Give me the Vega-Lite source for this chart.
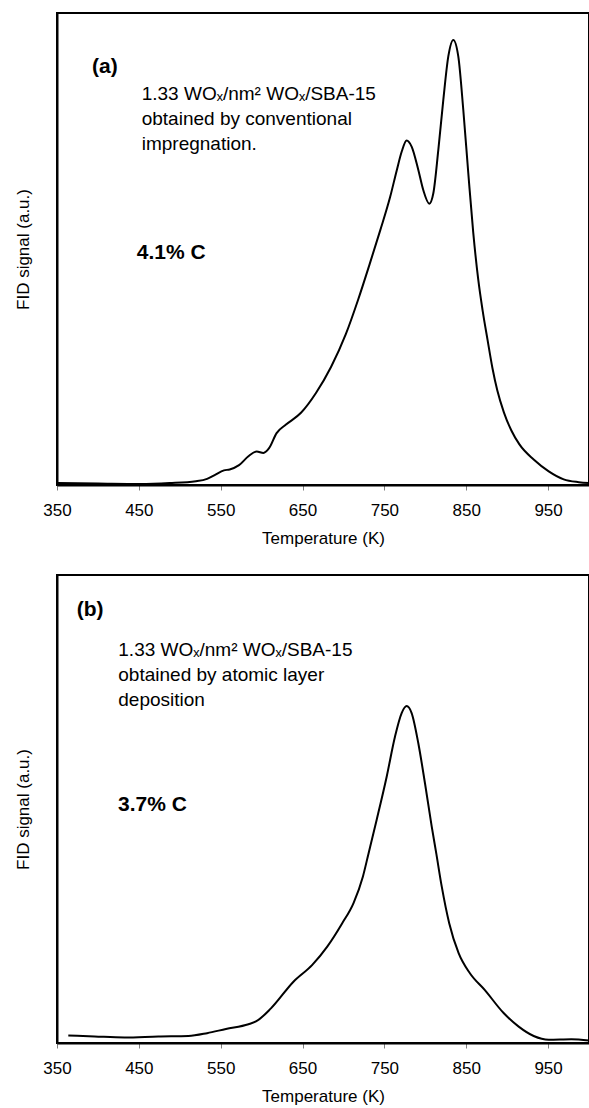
{
  "$schema": "https://vega.github.io/schema/vega-lite/v6.json",
  "background": "white",
  "padding": {"left": 13, "top": 12, "right": 0, "bottom": 0},
  "bounds": "flush",
  "spacing": 90,
  "datasets": {
    "a": [
      {"T": 350, "v": 0.4}, {"T": 400, "v": 0.3}, {"T": 451, "v": 0.2}, {"T": 487.6, "v": 0.4},
      {"T": 519.7, "v": 0.8}, {"T": 533.4, "v": 1.3}, {"T": 542.6, "v": 2.1}, {"T": 554, "v": 3.1},
      {"T": 561, "v": 3.3}, {"T": 572.4, "v": 4.2}, {"T": 583.9, "v": 6.1}, {"T": 594, "v": 7.1},
      {"T": 602.2, "v": 6.8}, {"T": 609.1, "v": 7.8}, {"T": 618.3, "v": 11.0}, {"T": 629.8, "v": 12.8},
      {"T": 648.1, "v": 15.3}, {"T": 666.4, "v": 19.5}, {"T": 684.8, "v": 25.0}, {"T": 703, "v": 32.0},
      {"T": 718, "v": 39.3}, {"T": 732, "v": 46.8}, {"T": 745, "v": 54.0}, {"T": 757, "v": 61.0},
      {"T": 765, "v": 66.6}, {"T": 771.1, "v": 70.6}, {"T": 777.2, "v": 73.0}, {"T": 783.3, "v": 71.7},
      {"T": 791.4, "v": 66.8}, {"T": 797.5, "v": 62.5}, {"T": 804.9, "v": 59.6}, {"T": 809.8, "v": 61.8},
      {"T": 815.9, "v": 71.0}, {"T": 822, "v": 81.6}, {"T": 828.1, "v": 90.8}, {"T": 834.2, "v": 94.3},
      {"T": 840.3, "v": 90.8}, {"T": 846.4, "v": 79.5}, {"T": 852.5, "v": 66.1}, {"T": 858.6, "v": 53.4},
      {"T": 864.7, "v": 43.5}, {"T": 870, "v": 37.0}, {"T": 876, "v": 30.8}, {"T": 882, "v": 24.8},
      {"T": 888, "v": 20.0}, {"T": 896, "v": 15.4}, {"T": 905, "v": 11.6}, {"T": 915, "v": 8.6},
      {"T": 932.4, "v": 5.4}, {"T": 950.8, "v": 2.9}, {"T": 969.1, "v": 1.2}, {"T": 987.5, "v": 0.6},
      {"T": 1000, "v": 0.4}
    ],
    "b": [
      {"T": 363.8, "v": 1.6}, {"T": 395.9, "v": 1.4}, {"T": 432.5, "v": 1.2}, {"T": 473.8, "v": 1.4},
      {"T": 510.5, "v": 1.5}, {"T": 533.4, "v": 2.1}, {"T": 556.4, "v": 3.0}, {"T": 583.9, "v": 4.0},
      {"T": 593.1, "v": 4.6}, {"T": 611.4, "v": 7.4}, {"T": 638.9, "v": 13.1}, {"T": 661.9, "v": 16.7},
      {"T": 680.2, "v": 20.6}, {"T": 698.5, "v": 25.6}, {"T": 712.3, "v": 29.9}, {"T": 723.8, "v": 35.6},
      {"T": 730.5, "v": 40.4}, {"T": 740.6, "v": 47.7}, {"T": 752.8, "v": 56.9}, {"T": 763, "v": 65.5},
      {"T": 771.1, "v": 70.5}, {"T": 777.2, "v": 72.0}, {"T": 783.3, "v": 70.5}, {"T": 791.4, "v": 64.1},
      {"T": 799.6, "v": 55.5}, {"T": 807.8, "v": 46.3}, {"T": 813.5, "v": 40.4}, {"T": 820.1, "v": 33.4},
      {"T": 829.2, "v": 25.6}, {"T": 840.7, "v": 19.2}, {"T": 854.5, "v": 14.9}, {"T": 872.8, "v": 11.3},
      {"T": 895.7, "v": 6.4}, {"T": 914.1, "v": 3.5}, {"T": 932.4, "v": 1.5}, {"T": 950.8, "v": 0.7},
      {"T": 978.3, "v": 0.8}, {"T": 1000, "v": 0.55}
    ],
    "ta": [
      {"T": 392.8, "v": 88.6, "label": "(a)", "kind": "tag"},
      {"T": 453.5, "v": 82.9, "label": "1.33 WOₓ/nm² WOₓ/SBA-15", "kind": "note"},
      {"T": 453.5, "v": 77.6, "label": "obtained by conventional", "kind": "note"},
      {"T": 453.5, "v": 72.3, "label": "impregnation.", "kind": "note"},
      {"T": 447.4, "v": 49.1, "label": "4.1% C", "kind": "pct"}
    ],
    "tb": [
      {"T": 374.1, "v": 92.5, "label": "(b)", "kind": "tag"},
      {"T": 424.9, "v": 84.0, "label": "1.33 WOₓ/nm² WOₓ/SBA-15", "kind": "note"},
      {"T": 424.9, "v": 78.6, "label": "obtained by atomic layer", "kind": "note"},
      {"T": 424.9, "v": 73.3, "label": "deposition", "kind": "note"},
      {"T": 424.5, "v": 50.9, "label": "3.7% C", "kind": "pct"}
    ]
  },
  "vconcat": [
    {
      "width": 532,
      "height": 472,
      "layer": [
        {
          "data": {"name": "a"},
          "mark": {"type": "line", "color": "black", "strokeWidth": 2, "interpolate": "monotone"},
          "encoding": {
            "x": {"field": "T", "type": "quantitative", "scale": {"domain": [350, 1000], "nice": false},
                  "axis": {"values": [350, 450, 550, 650, 750, 850, 950], "title": "Temperature (K)"}},
            "y": {"field": "v", "type": "quantitative", "scale": {"domain": [0, 100], "nice": false},
                  "axis": {"title": "FID signal (a.u.)"}}
          }
        },
        {
          "data": {"name": "ta"},
          "transform": [{"filter": "datum.kind === 'note'"}],
          "mark": {"type": "text", "align": "left", "baseline": "middle", "font": "Liberation Sans", "fontSize": 19, "color": "black"},
          "encoding": {"x": {"field": "T", "type": "quantitative"}, "y": {"field": "v", "type": "quantitative"}, "text": {"field": "label"}}
        },
        {
          "data": {"name": "ta"},
          "transform": [{"filter": "datum.kind !== 'note'"}],
          "mark": {"type": "text", "align": "left", "baseline": "middle", "font": "Liberation Sans", "fontSize": 21, "fontWeight": "bold", "color": "black"},
          "encoding": {"x": {"field": "T", "type": "quantitative"}, "y": {"field": "v", "type": "quantitative"}, "text": {"field": "label"}}
        }
      ]
    },
    {
      "width": 532,
      "height": 468,
      "layer": [
        {
          "data": {"name": "b"},
          "mark": {"type": "line", "color": "black", "strokeWidth": 2, "interpolate": "monotone"},
          "encoding": {
            "x": {"field": "T", "type": "quantitative", "scale": {"domain": [350, 1000], "nice": false},
                  "axis": {"values": [350, 450, 550, 650, 750, 850, 950], "title": "Temperature (K)"}},
            "y": {"field": "v", "type": "quantitative", "scale": {"domain": [0, 100], "nice": false},
                  "axis": {"title": "FID signal (a.u.)"}}
          }
        },
        {
          "data": {"name": "tb"},
          "transform": [{"filter": "datum.kind === 'note'"}],
          "mark": {"type": "text", "align": "left", "baseline": "middle", "font": "Liberation Sans", "fontSize": 19, "color": "black"},
          "encoding": {"x": {"field": "T", "type": "quantitative"}, "y": {"field": "v", "type": "quantitative"}, "text": {"field": "label"}}
        },
        {
          "data": {"name": "tb"},
          "transform": [{"filter": "datum.kind !== 'note'"}],
          "mark": {"type": "text", "align": "left", "baseline": "middle", "font": "Liberation Sans", "fontSize": 21, "fontWeight": "bold", "color": "black"},
          "encoding": {"x": {"field": "T", "type": "quantitative"}, "y": {"field": "v", "type": "quantitative"}, "text": {"field": "label"}}
        }
      ]
    }
  ],
  "config": {
    "font": "Liberation Sans",
    "view": {"stroke": "black", "strokeWidth": 2},
    "axis": {
      "grid": false,
      "domainColor": "black",
      "domainWidth": 2,
      "labelFont": "Liberation Sans",
      "labelFontSize": 17,
      "labelColor": "black",
      "labelFlush": false,
      "labelPadding": 12,
      "tickColor": "#808080",
      "tickSize": 5,
      "tickWidth": 1,
      "titleFont": "Liberation Sans",
      "titleFontSize": 17,
      "titleFontWeight": "normal",
      "titleColor": "black",
      "titlePadding": 12
    },
    "axisY": {"labels": false, "ticks": false, "titlePadding": 25}
  }
}
